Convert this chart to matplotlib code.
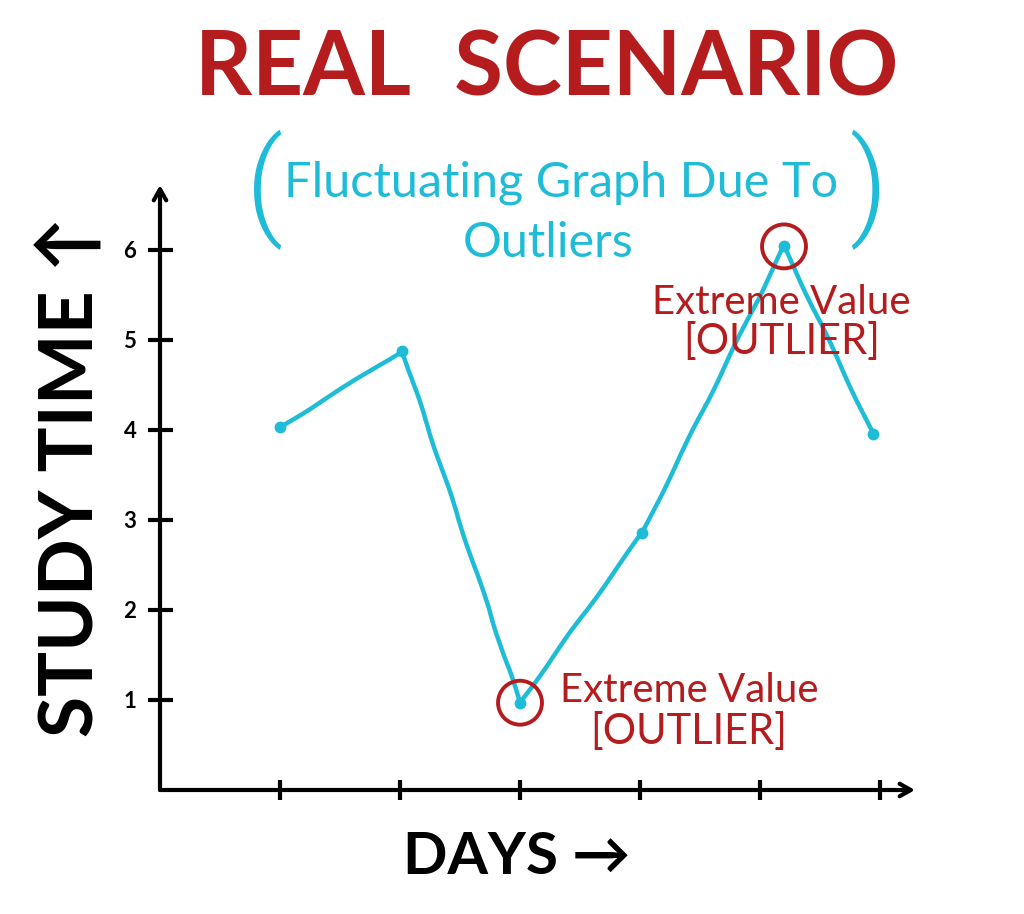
import matplotlib
matplotlib.use("Agg")
import matplotlib.pyplot as plt
import numpy as np

# ---- data ----
days = [1.0, 2.02, 3.0, 4.02, 5.2, 5.94]
study_time = [4.03, 4.88, 0.97, 2.86, 6.04, 3.96]
outlier_idx = [2, 4]
y_ticks = [1, 2, 3, 4, 5, 6]
y_tick_labels = ["1", "2", "3", "4", "5", "6"]
x_ticks = [1, 2, 3, 4, 5, 6]

title = "REAL  SCENARIO"
subtitle1 = "Fluctuating Graph Due To"
subtitle2 = "Outliers"
ylabel = "STUDY TIME \u2191"
xlabel = "DAYS \u2192"
ann_text1 = "Extreme Value"
ann_text2 = "[OUTLIER]"

RED = "#B51C1E"
CYAN = "#1FBCD8"
FONT = ["Lato", "DejaVu Sans"]
PAREN_FONT = ["Roboto", "Lato", "DejaVu Sans"]

W, H = 1024, 914
fig = plt.figure(figsize=(W / 100, H / 100), dpi=100)
fig.patch.set_facecolor("white")

def px(x, y):
    return x / W, 1 - y / H

# axes: origin at px (160, 790), 120 px / day, 90 px / unit
ax_left, ax_bottom_px, ax_right, ax_top = 160, 790, 915, 185
ax = fig.add_axes([ax_left / W, (H - ax_bottom_px) / H,
                   (ax_right - ax_left) / W, (ax_bottom_px - ax_top) / H])
ax.set_xlim(0, (ax_right - ax_left) / 120)
ax.set_ylim(0, (ax_bottom_px - ax_top) / 90)
for s in ax.spines.values():
    s.set_visible(False)
ax.patch.set_alpha(0)

# axis arrows
for xy in [(1, 0), (0, 1)]:
    ax.annotate("", xy=xy, xytext=(0, 0), xycoords="axes fraction",
                arrowprops=dict(arrowstyle="->,head_length=0.8,head_width=0.45",
                                lw=3, color="black", shrinkA=0, shrinkB=0))

ax.set_yticks(y_ticks)
ax.set_yticklabels(y_tick_labels, fontsize=16, fontweight="bold", family=FONT)
ax.set_xticks(x_ticks)
ax.set_xticklabels([])
ax.tick_params(axis="y", direction="inout", length=18, width=3, pad=8, colors="black")
ax.tick_params(axis="x", direction="inout", length=14, width=3, colors="black")

# data line
line, = ax.plot(days, study_time, color=CYAN, lw=3.2, marker="o", ms=7.5,
                mfc=CYAN, mec=CYAN, solid_capstyle="round", clip_on=False)
line.set_sketch_params(scale=0.6, length=150, randomness=4)

# outlier circles
ox = [days[i] for i in outlier_idx]
oy = [study_time[i] for i in outlier_idx]
ax.scatter(ox, oy, s=1000, facecolors="none", edgecolors=RED, linewidths=2.8,
           clip_on=False, zorder=5)

# titles
fig.text(*px(547, 70), title, color=RED, fontsize=64, fontweight="bold",
         family=FONT, ha="center", va="center")
fig.text(*px(265, 190), "(", color=CYAN, fontsize=84, fontweight=300,
         family=PAREN_FONT, ha="center", va="center")
fig.text(*px(868, 190), ")", color=CYAN, fontsize=84, fontweight=300,
         family=PAREN_FONT, ha="center", va="center")
fig.text(*px(561, 183), subtitle1, color=CYAN, fontsize=35,
         family=FONT, ha="center", va="center")
fig.text(*px(548, 243), subtitle2, color=CYAN, fontsize=35,
         family=FONT, ha="center", va="center")

# axis labels
fig.text(*px(72, 476), ylabel, color="black", fontsize=54, fontweight="bold",
         family=FONT, rotation=90, ha="center", va="center")
fig.text(*px(517, 857), xlabel, color="black", fontsize=42, fontweight="bold",
         family=FONT, ha="center", va="center")

# annotations
fig.text(*px(560, 690), ann_text1, color=RED, fontsize=29, family=FONT,
         ha="left", va="center")
fig.text(*px(590, 731), ann_text2, color=RED, fontsize=30, family=FONT,
         ha="left", va="center")
fig.text(*px(652, 302), ann_text1, color=RED, fontsize=29, family=FONT,
         ha="left", va="center")
fig.text(*px(683, 342), ann_text2, color=RED, fontsize=30, family=FONT,
         ha="left", va="center")

fig.savefig("out.png", dpi=100, facecolor="white")
